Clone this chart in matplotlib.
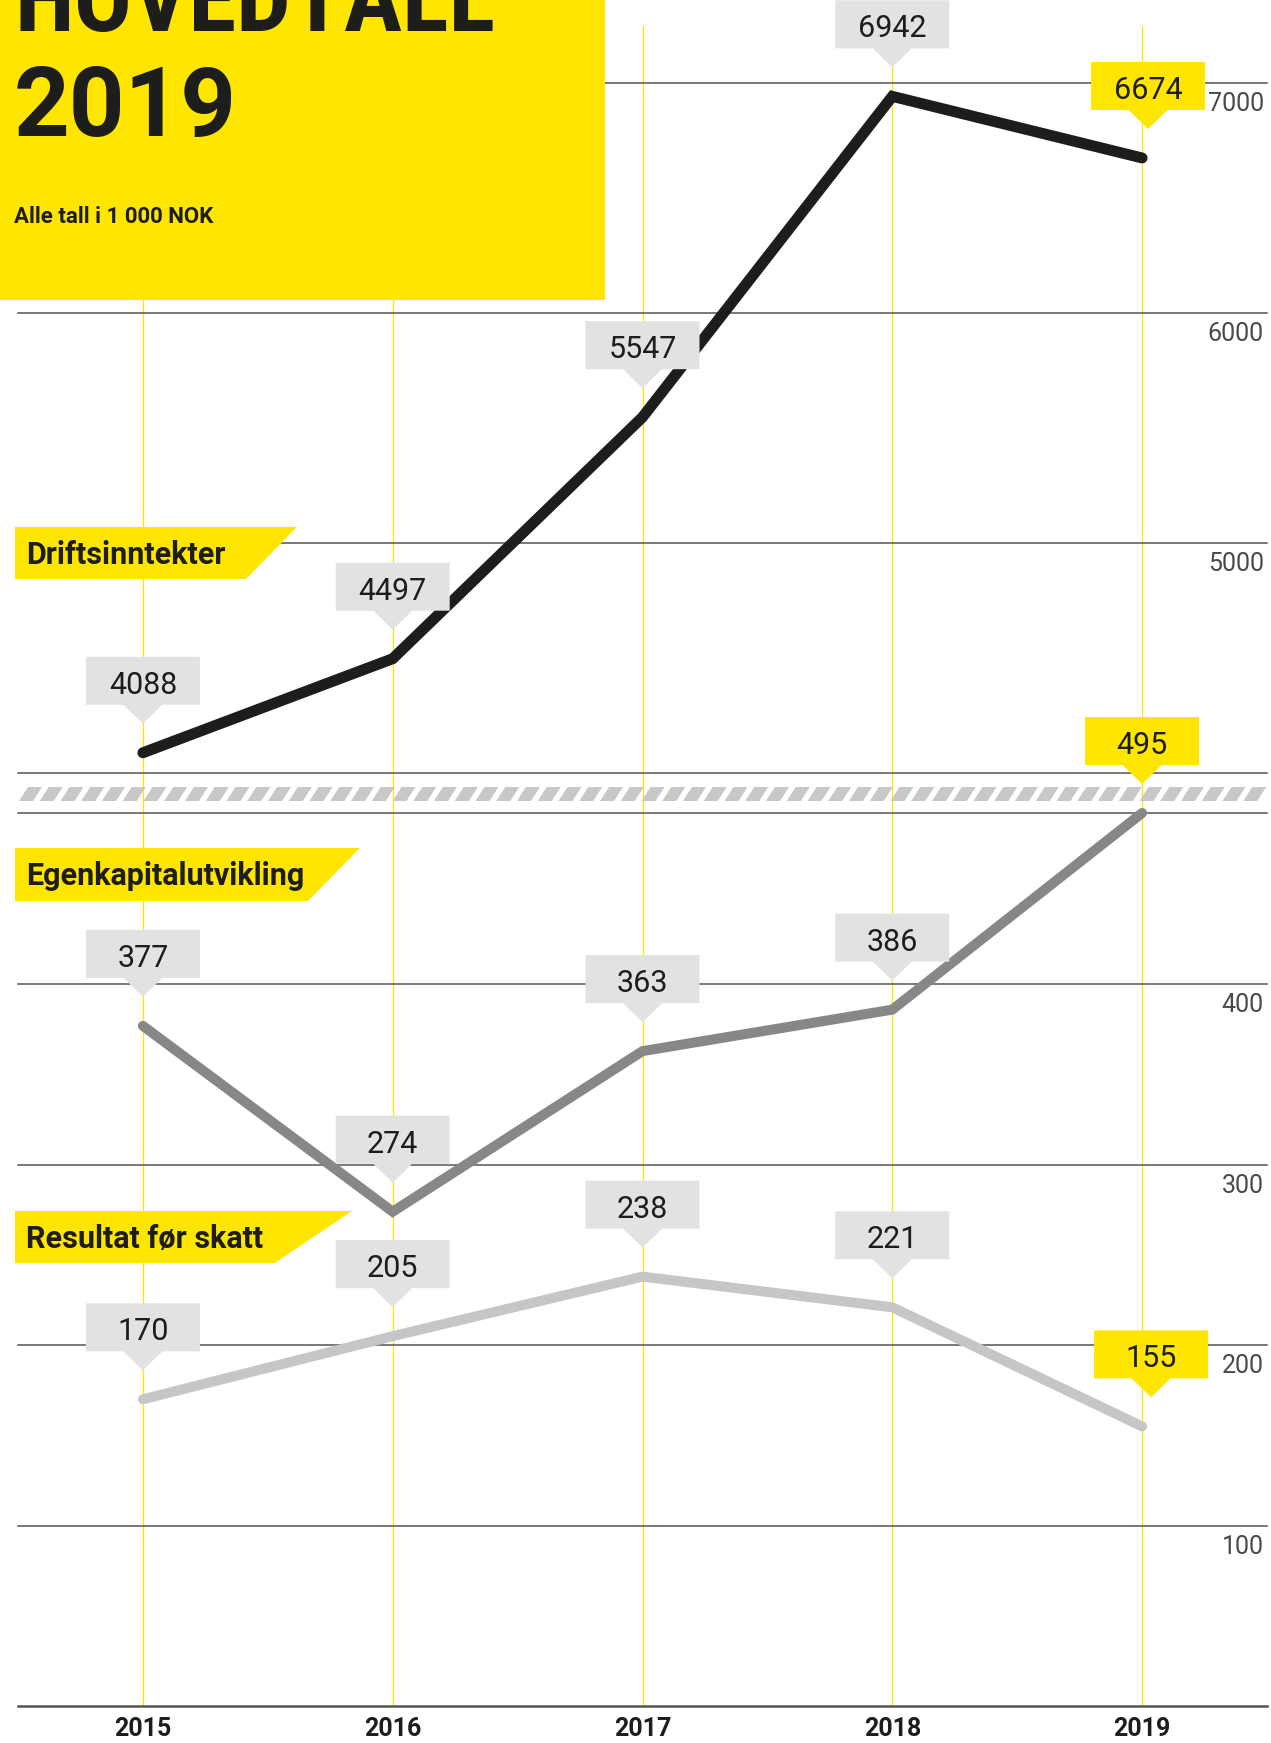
import matplotlib
matplotlib.use("Agg")
import matplotlib.pyplot as plt
from matplotlib import font_manager, transforms
from matplotlib.patches import Polygon, Rectangle
from matplotlib.collections import PolyCollection

# data
years = [2015, 2016, 2017, 2018, 2019]
driftsinntekter = [4088, 4497, 5547, 6942, 6674]
egenkapital = [377, 274, 363, 386, 495]
resultat = [170, 205, 238, 221, 155]
top_ticks = [5000, 6000, 7000]
bottom_ticks = [100, 200, 300, 400]

title_lines = ["HOVEDTALL", "2019"]
subtitle = "Alle tall i 1 000 NOK"
series_names = ["Driftsinntekter", "Egenkapitalutvikling", "Resultat før skatt"]

# colours
YELLOW = "#ffe600"
INK = "#1d1d1b"
GRID = "#555555"
BOXGRAY = "#e2e2e2"
MIDGRAY = "#878787"
LIGHTGRAY = "#c6c6c6"

W, H = 1271, 1743
fig = plt.figure(figsize=(W / 100, H / 100), dpi=100)
fig.patch.set_facecolor("white")

avail = {f.name for f in font_manager.fontManager.ttflist}


def pick(*names):
    for n in names:
        if n in avail:
            return n
    return "DejaVu Sans"


FONT = pick("Roboto", "Open Sans", "DejaVu Sans")
NARROW = pick("Roboto Condensed", "Liberation Sans Narrow", FONT)
plt.rcParams["font.family"] = [FONT, "DejaVu Sans"]

# pixel coords (origin top-left) -> figure
PIX = transforms.Affine2D().scale(1 / W, -1 / H).translate(0, 1) + fig.transFigure


def frac_rect(x0, y0, x1, y1):
    return [x0 / W, 1 - y1 / H, (x1 - x0) / W, (y1 - y0) / H]


X0, X1 = 18, 1267
XLIM = (years[0] - 0.5, years[-1] + 0.5)

ax_bg = fig.add_axes(frac_rect(X0, 26, X1, 1706))
ax_top = fig.add_axes(frac_rect(X0, 83, X1, 773))
ax_gap = fig.add_axes(frac_rect(X0, 773, X1, 813))
ax_bot = fig.add_axes(frac_rect(X0, 813, X1, 1706))

# yellow year lines
ax_bg.axis("off")
ax_bg.set_xlim(XLIM)
ax_bg.set_ylim(0, 1)
for yr in years:
    ax_bg.axvline(yr, color=YELLOW, lw=0.9, zorder=1)

# top panel
ax_top.axis("off")
ax_top.set_xlim(XLIM)
ax_top.set_ylim(4000, 7000)
for v in [4000] + top_ticks:
    ax_top.axhline(v, color=GRID, lw=1.1, zorder=2, clip_on=False)

# bottom panel
ax_bot.set_frame_on(False)
ax_bot.set_xlim(XLIM)
ax_bot.set_ylim(0, max(egenkapital))
ax_bot.set_yticks([])
ax_bot.set_xticks(years)
ax_bot.set_xticklabels([str(y) for y in years], fontsize=18, fontweight="bold", color=INK)
ax_bot.tick_params(axis="x", length=0, pad=8)
for v in bottom_ticks + [max(egenkapital)]:
    ax_bot.axhline(v, color=GRID, lw=1.1, zorder=2, clip_on=False)
ax_bot.axhline(0, color=GRID, lw=1.8, zorder=2, clip_on=False)

# tick labels on the right
for ax, ticks in [(ax_top, top_ticks), (ax_bot, bottom_ticks)]:
    for v in ticks:
        ax.annotate(str(v), xy=(1, v), xycoords=("axes fraction", "data"),
                    xytext=(-2.2, -6.5), textcoords="offset points",
                    ha="right", va="top", fontsize=18, fontweight="normal",
                    color="#4a4a4a", zorder=4, annotation_clip=False)

# hatched break band
ax_gap.axis("off")
ax_gap.set_xlim(0, X1 - X0)
ax_gap.set_ylim(0, 40)
dashes = []
x = 1.0
while x + 23 <= X1 - X0:
    dashes.append([(x, 12), (x + 14, 12), (x + 23, 26), (x + 9, 26)])
    x += 20.75
ax_gap.add_collection(PolyCollection(dashes, facecolors="#c8c8c8", edgecolors="none"))


def callout(ax, x, y, text, color, dx=0):
    px = 0.01  # inches per pixel
    tr = fig.dpi_scale_trans + transforms.ScaledTranslation(x, y, ax.transData)
    hw, tip, base, top, ph = 57, 29, 48, 96, 19.5
    verts = [(0, tip), (ph, base), (hw, base), (hw, top),
             (-hw, top), (-hw, base), (-ph, base)]
    verts = [((a + dx) * px, b * px) for a, b in verts]
    ax.add_patch(Polygon(verts, closed=True, transform=tr, facecolor=color,
                         edgecolor="none", zorder=5, clip_on=False))
    ax.text(dx * px, 59 * px, text, transform=tr, ha="center", va="baseline",
            fontsize=22, color=INK, zorder=6, clip_on=False)


series = [
    (ax_top, driftsinntekter, INK, 7.9, 6),
    (ax_bot, egenkapital, MIDGRAY, 7.2, 0),
    (ax_bot, resultat, LIGHTGRAY, 7.2, 9),
]
for ax, vals, col, lw, last_dx in series:
    ax.plot(years, vals, color=col, lw=lw, solid_capstyle="round",
            solid_joinstyle="miter", zorder=3, clip_on=False)
    for i, (yr, v) in enumerate(zip(years, vals)):
        last = i == len(years) - 1
        callout(ax, yr, v, str(v), YELLOW if last else BOXGRAY,
                dx=last_dx if last else 0)

ax_top.set_ylim(4000, 7000)
ax_bot.set_ylim(0, max(egenkapital))

# title block
fig.add_artist(Rectangle((0, 0), 605, 300, transform=PIX, facecolor=YELLOW,
                         edgecolor="none", zorder=10))
fig.text(15, 31, title_lines[0], transform=PIX, fontsize=70, fontweight="bold",
         family=[NARROW, "DejaVu Sans"], color=INK, va="baseline", zorder=11)
fig.text(14, 136, title_lines[1], transform=PIX, fontsize=70, fontweight="bold",
         color=INK, va="baseline", zorder=11)
fig.text(14, 223, subtitle, transform=PIX, fontsize=16, fontweight="bold",
         color=INK, va="baseline", zorder=11)

# series tags
tags = [
    (series_names[0], 527, 579, 297, 246),
    (series_names[1], 848, 901, 360, 308),
    (series_names[2], 1211, 1263, 352, 275),
]
for name, ytop, ybot, xtr, xbr in tags:
    fig.add_artist(Polygon([(15, ytop), (xtr, ytop), (xbr, ybot), (15, ybot)],
                           closed=True, transform=PIX, facecolor=YELLOW,
                           edgecolor="none", zorder=10))
    fig.text(26, (ytop + ybot) / 2 + 11, name, transform=PIX, fontsize=22,
             fontweight="bold", color=INK, va="baseline", zorder=11)

fig.savefig("out.png", dpi=100)
